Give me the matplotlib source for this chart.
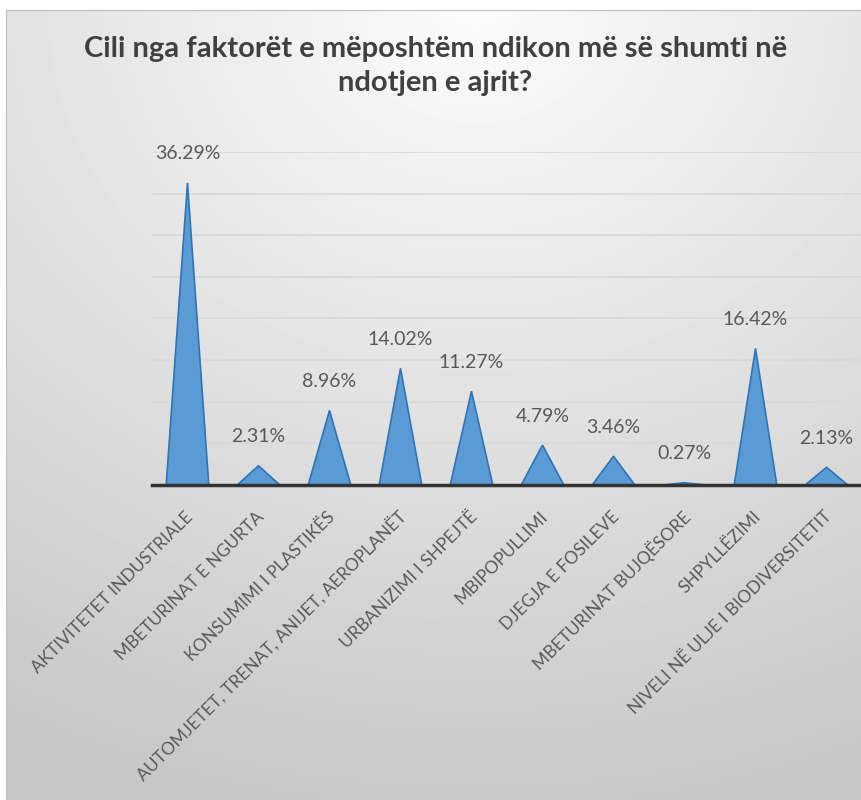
import numpy as np
import matplotlib.pyplot as plt
from matplotlib.transforms import ScaledTranslation

TITLE = "Cili nga faktorët e mëposhtëm ndikon më së shumti në\nndotjen e ajrit?"
categories = [
    "AKTIVITETET INDUSTRIALE",
    "MBETURINAT E NGURTA",
    "KONSUMIMI I PLASTIKËS",
    "AUTOMJETET, TRENAT, ANIJET, AEROPLANËT",
    "URBANIZIMI I SHPEJTË",
    "MBIPOPULLIMI",
    "DJEGJA E FOSILEVE",
    "MBETURINAT BUJQËSORE",
    "SHPYLLËZIMI",
    "NIVELI NË ULJE I BIODIVERSITETIT",
]
values = [36.29, 2.31, 8.96, 14.02, 11.27, 4.79, 3.46, 0.27, 16.42, 2.13]
value_labels = ["36.29%", "2.31%", "8.96%", "14.02%", "11.27%",
                "4.79%", "3.46%", "0.27%", "16.42%", "2.13%"]
grid_ticks = [5, 10, 15, 20, 25, 30, 35, 40]

TEXT = "#595959"
FILL = "#5B9BD5"
EDGE = "#2E75B6"
FONT = ["Lato", "DejaVu Sans"]

fig = plt.figure(figsize=(8.62, 8.0), dpi=100)
fig.patch.set_facecolor("white")

# chart-area background: soft radial gradient, light at top, grey at bottom
bg = fig.add_axes([6 / 862, 0, 1 - 6 / 862, 1 - 10 / 800])
yy, xx = np.mgrid[0:1:200j, 0:1:200j]
dist = np.sqrt((xx - 0.55) ** 2 + (yy * 1.1) ** 2)
shade = 0.985 - 0.18 * np.clip(dist, 0, 1.15)
bg.imshow(shade, cmap="gray", vmin=0, vmax=1, aspect="auto",
          extent=[0, 1, 1, 0], interpolation="bicubic")
bg.set_xticks([])
bg.set_yticks([])
for side in ["right", "bottom"]:
    bg.spines[side].set_visible(False)
bg.spines["left"].set_color("#bfbfbf")
bg.spines["top"].set_color("#bfbfbf")

fig.text(0.505, 1 - 66 / 800, TITLE, ha="center", va="center", fontsize=21,
         fontweight="bold", color="#404040", family=FONT, linespacing=1.35)

ax = fig.add_axes([152 / 862, 1 - 485 / 800, 1 - 152 / 862, (485 - 152) / 800])
ax.patch.set_alpha(0)
x = np.arange(len(categories))
half = 0.3
for xi, v, lab in zip(x, values, value_labels):
    ax.fill([xi - half, xi, xi + half], [0, v, 0], facecolor=FILL,
            edgecolor=EDGE, linewidth=1.2, zorder=3)
    ax.annotate(lab, (xi, v), xytext=(0, 29), textcoords="offset pixels",
                ha="center", va="center", fontsize=14, color=TEXT, family=FONT)

ax.set_xlim(-0.5, len(categories) - 0.5)
ax.set_ylim(0, 40)
ax.set_yticks(grid_ticks)
ax.yaxis.grid(True, color="#d9d9d9", linewidth=1.2, zorder=0)
ax.tick_params(axis="y", length=0, labelleft=False)
ax.set_xticks(x)
ax.set_xticklabels(categories, rotation=45, ha="right", va="center",
                   rotation_mode="anchor", fontsize=12.5, color=TEXT, family=FONT)
ax.tick_params(axis="x", length=0, pad=21)
shift = ScaledTranslation(3 / 100, 0, fig.dpi_scale_trans)
for t in ax.get_xticklabels():
    t.set_transform(t.get_transform() + shift)
for side in ["top", "right", "left"]:
    ax.spines[side].set_visible(False)
ax.spines["bottom"].set_color("#333333")
ax.spines["bottom"].set_linewidth(2.5)
ax.spines["bottom"].set_zorder(4)

fig.savefig("out.png", dpi=100)
